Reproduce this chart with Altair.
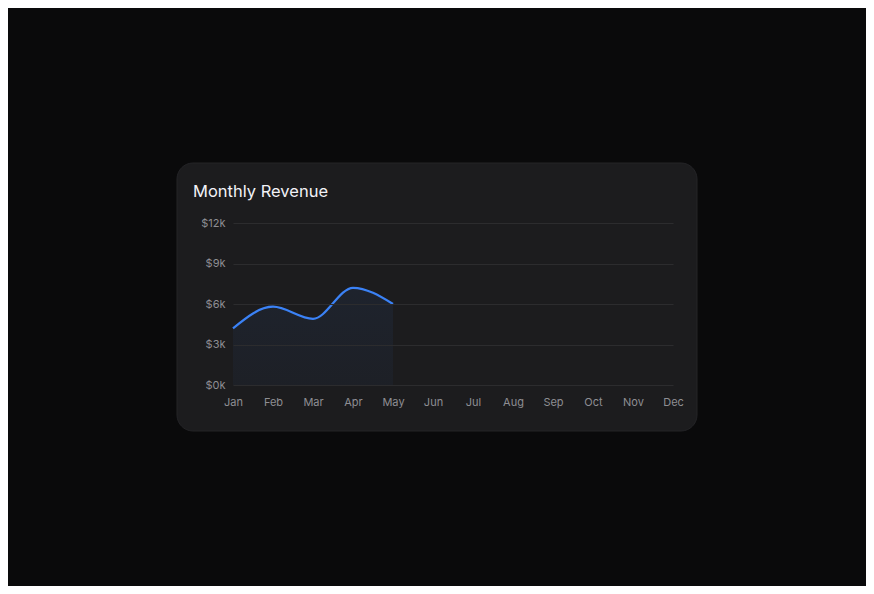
import altair as alt
import pandas as pd

months = ["Jan", "Feb", "Mar", "Apr", "May", "Jun", "Jul", "Aug", "Sep", "Oct", "Nov", "Dec"]
rev_months = ["Jan", "Feb", "Mar", "Apr", "May"]
revenue_k = [4.2, 5.8, 4.9, 7.2, 6.0]
y_ticks = [0, 3, 6, 9, 12]
title_text = ["Monthly Revenue"]

df = pd.DataFrame({"month": rev_months, "revenue": revenue_k})

PAGE = "#0a0a0b"
CARD = "#1c1c1e"
BLUE = "#3b82f6"

x_enc = alt.X("month:N", sort=months,
              scale=alt.Scale(domain=months, type="point", padding=0),
              axis=alt.Axis(title=None, labelColor="#8e8e93", labelFontSize=11,
                            labelPadding=11, domain=False, ticks=False, grid=False,
                            labelAngle=0, labelFont="Inter", zindex=1))
y_enc = alt.Y("revenue:Q", scale=alt.Scale(domain=[0, 12], nice=False),
              axis=alt.Axis(title=None, values=y_ticks, labelExpr="'$' + datum.value + 'k'",
                            labelColor="#8e8e93", labelFontSize=11, labelPadding=8,
                            domain=False, ticks=False, grid=True, gridColor="#2c2c2e",
                            gridWidth=1, labelFont="Inter", zindex=1))

card = alt.Chart(pd.DataFrame({"k": [0]})).mark_rect(
    color=CARD, cornerRadius=16, stroke="#242427", strokeWidth=1
).encode(x=alt.value(-56), x2=alt.value(464), y=alt.value(-60), y2=alt.value(208))

title = alt.Chart(pd.DataFrame({"t": title_text})).mark_text(
    align="left", baseline="alphabetic", font="Inter", fontSize=16.5, fontWeight=400,
    color="#f2f2f7"
).encode(text="t:N", x=alt.value(-40), y=alt.value(-26))

area = alt.Chart(df).mark_area(
    interpolate="monotone",
    color=alt.Gradient(gradient="linear",
                       stops=[alt.GradientStop(color="rgba(59,130,246,0.07)", offset=0),
                              alt.GradientStop(color="rgba(59,130,246,0.04)", offset=1)],
                       x1=1, x2=1, y1=0, y2=1)
).encode(x=x_enc, y=y_enc)

line = alt.Chart(df).mark_line(interpolate="monotone", color=BLUE, strokeWidth=2.2).encode(
    x=x_enc, y=y_enc)

chart = alt.layer(card, title, area, line).properties(
    width=440, height=162,
    autosize=alt.AutoSizeParams(type="none"),
    padding={"left": 225, "top": 215, "right": 193, "bottom": 201},
    background=PAGE,
).configure_view(stroke=None)

chart.save("out.html", embed_options={"renderer": "svg", "actions": False})
